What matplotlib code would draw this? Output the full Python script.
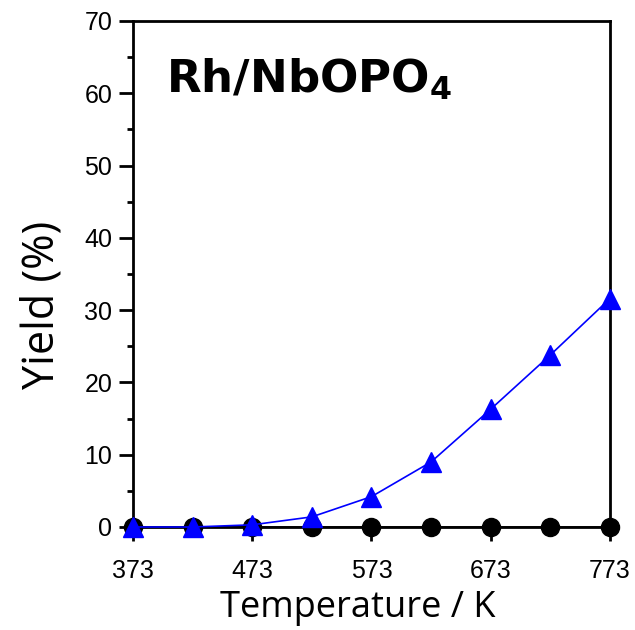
import matplotlib.pyplot as plt

# temperatures (K) and yields (%) for the two products
temperature = [373, 423, 473, 523, 573, 623, 673, 723, 773]
yield_blue = [0.0, 0.0, 0.3, 1.4, 4.2, 9.0, 16.3, 23.8, 31.6]
yield_black = [0.0, 0.0, 0.0, 0.0, 0.0, 0.0, 0.0, 0.0, 0.0]
x_ticks = [373, 473, 573, 673, 773]

plt.rcParams['mathtext.fontset'] = 'dejavusans'

fig = plt.figure(figsize=(6.35, 6.3), dpi=100)
ax = fig.add_axes([0.2094, 0.1635, 0.7512, 0.8032])

ax.plot(temperature, yield_black, color='black', marker='o', markersize=13,
        linewidth=1.2, clip_on=False, zorder=3)
ax.plot(temperature, yield_blue, color='blue', marker='^', markersize=14,
        linewidth=1.2, clip_on=False, zorder=4)

ax.set_xlim(373, 773)
ax.set_ylim(0, 70)
ax.set_xticks(x_ticks)
ax.set_xticks(temperature, minor=True)
ax.set_yticks(range(0, 71, 10))
ax.set_yticks(range(5, 70, 10), minor=True)

for s in ax.spines.values():
    s.set_linewidth(2)
ax.tick_params(which='both', direction='out', width=2, top=False, right=False)
ax.tick_params(which='major', length=10, labelsize=18)
ax.tick_params(which='minor', length=4.5)
ax.tick_params(axis='x', which='major', pad=13)
ax.tick_params(axis='y', which='major', pad=5)
for lab in ax.get_xticklabels() + ax.get_yticklabels():
    lab.set_family('Liberation Sans')

ax.set_xlabel('Temperature / K', fontsize=26, family='Open Sans', labelpad=5)
ax.set_ylabel('Yield (%)', fontsize=31, family='Open Sans', labelpad=14)
ax.xaxis.label.set_x(0.472)
ax.yaxis.label.set_y(0.439)

ax.text(0.07, 0.858, r'Rh/NbOPO$_\mathbf{4}$', transform=ax.transAxes,
        fontsize=32.5, fontweight='bold', family='DejaVu Sans')

fig.savefig('out.png')
